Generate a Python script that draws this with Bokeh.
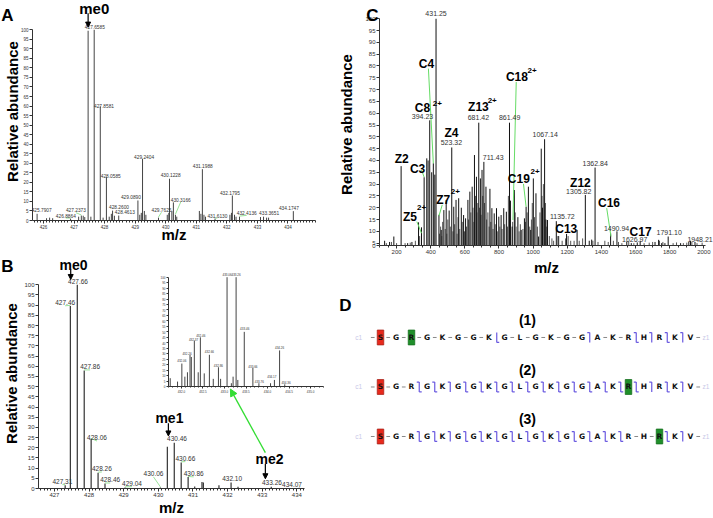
from math import pi
from bokeh.plotting import figure
from bokeh.models import (Range1d, Label, Arrow, NormalHead, SingleIntervalTicker,
                          FixedTicker, GridBox, NumeralTickFormatter)
from bokeh.embed import file_html
from bokeh.resources import INLINE
from bokeh.core.properties import value

FONT = "Liberation Sans"
SX = 1.0
SY = 1.0

# ---------------- Panel A data ----------------
A_MZ = [425.7907, 426.10, 426.20, 426.30, 426.8864, 427.15, 427.2373, 427.30, 427.35,
        427.46, 427.55, 427.6585, 427.8581, 427.95, 428.0585, 428.15, 428.22, 428.2600,
        428.32, 428.4613, 429.0890, 429.15, 429.20, 429.2404, 429.30, 429.35, 429.7625,
        430.05, 430.10, 430.1228, 430.20, 430.25, 430.3166, 430.36, 431.10, 431.15,
        431.1988, 431.25, 431.30, 431.6130, 432.10, 432.15, 432.1795, 432.25, 432.30,
        432.4136, 433.10, 433.20, 433.30, 433.3651, 434.1747]
A_INT = [3.5, 1.2, 1.5, 1.2, 1.0, 2.0, 2.6, 2.5, 1.8,
         99.5, 2.0, 100, 59.8, 1.5, 22.7, 2.0, 3.5, 5.2,
         2.5, 2.6, 10.5, 3.0, 4.0, 32.3, 5.0, 3.0, 1.5,
         3.0, 4.0, 21.9, 5.0, 9.5, 3.0, 2.0, 5.0, 3.5,
         26.9, 3.0, 2.0, 1.0, 3.0, 4.0, 13.1, 3.0, 2.0,
         2.0, 1.8, 2.0, 1.5, 1.5, 4.9]
A_LAB_TEXT = ["425.7907", "426.8864", "427.2373", "427.6585", "427.8581", "428.0585",
              "428.2600", "428.4613", "429.0890", "429.2404", "429.7625", "430.1228",
              "430.3166", "431.1988", "431.6130", "432.1795", "432.4136", "433.3651", "434.1747"]
A_LAB_X = [425.94, 426.73, 427.06, 427.68, 427.98, 428.20, 428.47, 428.66, 428.86, 429.29,
           429.86, 430.16, 430.49, 431.21, 431.69, 432.10, 432.65, 433.38, 434.03]
A_LAB_Y = [5.6, 2.6, 5.4, 101.2, 60.1, 23.5, 7.0, 4.2, 12.2, 33.4,
           5.6, 24.1, 11.0, 28.7, 2.6, 14.3, 4.0, 4.0, 6.8]
A_LEADERS = ["427.2373", "429.7625", "430.3166", "432.4136", "431.6130", "426.8864"]

# ---------------- Panel B data ----------------
B_MZ = [427.31, 427.46, 427.66, 427.86, 428.06, 428.26, 428.46, 429.04, 430.06, 430.26,
        430.46, 430.66, 430.86, 431.05, 431.26, 431.30, 431.75, 432.10, 432.30, 433.26, 434.07]
B_INT = [1.6, 89.6, 100, 57.9, 24.3, 7.7, 2.4, 0.5, 0.5, 20.5,
         22.4, 12.8, 5.6, 1.0, 3.2, 3.0, 1.6, 2.9, 0.8, 0.8, 0.4]
B_LAB_TEXT = ["427.31", "427.46", "427.66", "427.86", "428.06", "428.26", "428.46", "429.04",
              "430.06", "430.46", "430.66", "430.86", "432.10", "433.26", "434.07"]
B_LAB_X = [427.23, 427.31, 427.68, 428.03, 428.23, 428.37, 428.61, 429.24,
           429.86, 430.54, 430.78, 431.02, 432.13, 433.28, 433.86]
B_LAB_Y = [3.4, 91.2, 101.8, 59.7, 24.8, 9.6, 4.2, 2.4, 7.2, 24.3, 14.7, 7.2, 5.1, 3.0, 2.0]
B_LEADERS = ["427.31", "427.46", "427.86", "428.06", "428.26", "428.46", "429.04",
             "430.06", "430.66", "430.86"]

# ---------------- Inset data ----------------
IN_MZ = [431.74, 431.91, 432.01, 432.08, 432.14, 432.20, 432.23, 432.30, 432.39, 432.44,
         432.53, 432.65, 432.74, 432.86, 432.91, 433.06, 433.16, 433.20, 433.27, 433.31,
         433.46, 433.66, 433.80, 434.07, 434.16, 434.28, 434.40]
IN_INT = [7.6, 4.5, 21, 9, 13, 29, 27, 42, 13, 45,
          12, 29, 7, 17.6, 7, 100, 3, 9, 100, 6,
          50, 17, 3, 3, 6, 33, 2]
IN_LAB_TEXT = ["432.06", "432.26", "432.37", "432.46", "432.66", "432.86", "433.06", "433.26",
               "433.46", "433.66", "433.76", "434.17", "434.26", "434.36"]
IN_LAB_X = [432.01, 432.13, 432.28, 432.45, 432.65, 432.86, 433.06, 433.27,
            433.47, 433.66, 433.81, 434.10, 434.28, 434.43]
IN_LAB_Y = [23.6, 30.9, 43.0, 47.0, 32.5, 19.5, 102.5, 102.5, 53, 18.5, 5, 9.1, 35.5, 3.6]

# ---------------- Panel C data ----------------
C_MZ = [130, 159, 184, 226.6, 265, 290, 328.7, 346, 361.5, 376.9, 384.6, 394.23, 405.8,
        415.4, 424, 431.25, 448.2, 461.7, 477, 490.6, 508, 523.32, 535, 548.4, 563.8,
        579.2, 592.7, 604.3, 617.8, 629.3, 642.8, 656.3, 667.9, 681.42, 691, 700.6,
        711.43, 723.7, 746.9, 758.4, 772, 785.4, 798.9, 812.4, 827.8, 843.2, 861.49,
        867, 877, 890, 910.7, 930, 949, 958.8, 972.3, 985.8, 1001.2, 1016.6, 1032,
        1047.5, 1055, 1067.14, 1075, 1084, 1135.72, 1146, 1195.9, 1257.5, 1305.82,
        1328.7, 1343, 1362.84, 1453.9, 1490.94, 1548.6, 1575, 1610, 1626.97, 1714,
        1735, 1753, 1772, 1791.10, 1864, 1912, 1922, 1948.21]
C_INT = [6, 5.5, 7.8, 37.6, 5, 5.5, 13.8, 11.7, 32.9, 40.9, 40, 57, 35,
         38.8, 34, 100, 17, 10.6, 19, 23.3, 18.8, 45.5, 20.4, 23.3, 24,
         20, 16.9, 15.5, 23.3, 26.8, 28.9, 42.3, 33.1, 56, 32.4, 36,
         39.4, 28.9, 28, 19.8, 17.6, 19.8, 16.2, 16.9, 19.8, 18.3, 56,
         23, 12, 27.5, 16, 10.6, 15.5, 20.4, 28.9, 10.6, 32.4, 26.1, 7.8,
         45, 20, 49, 15, 14.8, 14.3, 8, 8.9, 10.6, 25.4,
         6, 6.5, 37, 9.2, 10, 5.7, 5, 5.3, 6, 5.5,
         6.4, 5, 5, 7.8, 5, 5.5, 6, 5.5]
C_NOISE_MZ = [140, 170, 200, 250, 280, 310, 335, 452, 458, 466, 470, 485, 495, 500, 515, 530,
              540, 555, 560, 570, 585, 598, 610, 622, 635, 648, 652, 662, 672, 676, 686, 695,
              705, 715, 728, 735, 742, 752, 765, 778, 790, 805, 818, 833, 850, 855, 865, 880,
              895, 900, 918, 925, 940, 955, 965, 980, 990, 995, 1008, 1025, 1040, 1052, 1060,
              1072, 1080, 1095, 1110, 1120, 1150, 1170, 1190, 1205, 1220, 1240, 1270, 1290,
              1350, 1380, 1420, 1440, 1470, 1500, 1520, 1560, 1590, 1650, 1680, 1700, 1740,
              1760, 1820, 1840, 1880, 1900, 1930, 1960, 1990]
C_NOISE_INT = [5, 5.5, 5, 5, 5.2, 6, 8, 9, 12, 8, 14, 11, 9, 15, 12, 10,
               13, 9, 16, 11, 14, 10, 12, 15, 18, 20, 14, 25, 18, 22, 20, 17,
               25, 22, 15, 18, 12, 14, 11, 13, 10, 12, 11, 13, 12, 25, 15, 14,
               18, 12, 10, 13, 11, 14, 18, 12, 15, 22, 16, 12, 18, 25, 30,
               22, 12, 8, 7, 6, 8, 6, 7, 8, 6, 6, 6, 7,
               6, 5.5, 6, 5.5, 6, 5.5, 5, 5.5, 5, 5, 5.2, 5.5, 6,
               5.5, 5, 5.3, 5, 5.2, 5.5, 5, 5.2]
C_LAB_TEXT = ["431.25", "394.23", "681.42", "861.49", "1067.14", "523.32", "711.43",
              "1362.84", "1305.82", "1135.72", "1490.94", "1626.97", "1791.10", "1948.21"]
C_LAB_X = [431.25, 351.8, 679.4, 862.5, 1070.6, 521.4, 766, 1363.5, 1267.2, 1170.8,
           1488.8, 1594.8, 1797.1, 1978]
C_LAB_Y = [102.1, 58.5, 58.3, 58.3, 51.0, 47.5, 41.1, 38.8, 26.8, 16.2, 11.3, 6.4, 9.6, 6.7]
C_ION = ["Z2", "C3", "C4", "C8", "Z4", "Z13", "Z5", "Z7", "C18", "C19", "Z12", "C13", "C16", "C17"]
C_ION_X = [230.4, 322.9, 375, 351.8, 521.4, 679.4, 278.6, 473.2, 904.9, 916.4, 1276.8, 1193.9,
           1444.5, 1629.5]
C_ION_Y = [40.6, 36.2, 81, 62.2, 51.7, 62.5, 16.1, 23.3, 75.3, 32, 30.6, 10.9, 21.9, 9.6]
C_SUP = ["2+", "2+", "2+", "2+", "2+", "2+"]
C_SUP_X = [438.5, 760.4, 346, 544.5, 993.5, 1010.9]
C_SUP_Y = [64.1, 65.5, 20.2, 26.8, 78.2, 35.2]
C_LEAD_X0 = [386.5, 901, 943.4, 1431, 319, 467.5, 346]
C_LEAD_Y0 = [78.9, 73.2, 30.1, 19.8, 14.1, 21.2, 36]
C_LEAD_X1 = [415.4, 881.8, 958.8, 1456, 346, 448.2, 361.5]
C_LEAD_Y1 = [38.8, 14.8, 20.4, 7.8, 9.2, 16.5, 33]

# ---------------- Panel D data ----------------
SEQ = list("SGRGKGGKGLGKGGAKRHRKV")
ROW_TITLES = ["(1)", "(2)", "(3)"]
ROW_GAPS = ["-------z-----c--bcbc",
            "--bbc" + "b" * 12 + "cbc",
            "--bbc" + "b" * 11 + "--bc"]
RED_IDX = [0, 0, 0]
GREEN_IDX = [2, 16, 18]


# ---------------- helpers ----------------
def make_fig(canvas, frame, xr, yr, axes=True):
    cx0, cy0, cx1, cy1 = canvas
    fx0, fy0, fx1, fy1 = frame
    L = round(cx0 * SX)
    T = round(cy0 * SY)
    W = round(cx1 * SX) - L
    H = round(cy1 * SY) - T
    kw = {}
    if not axes:
        kw = dict(x_axis_type=None, y_axis_type=None)
    p = figure(width=W, height=H, x_range=Range1d(*xr), y_range=Range1d(*yr),
               output_backend="svg", toolbar_location=None,
               min_border_left=round(fx0 * SX) - L, min_border_right=round(cx1 * SX) - round(fx1 * SX),
               min_border_top=round(fy0 * SY) - T, min_border_bottom=round(cy1 * SY) - round(fy1 * SY),
               **kw)
    p.frame_align = False
    p.margin = (T, 0, 0, L)
    p.align = "start"
    p.title.visible = False
    p.outline_line_color = None
    p.background_fill_alpha = 0
    p.border_fill_alpha = 0
    if axes:
        p.xgrid.visible = False
        p.ygrid.visible = False
    return p


def style_axes(p, fs, xticker, yticker, ybounds=(0, 100)):
    for ax in (p.xaxis[0], p.yaxis[0]):
        ax.axis_line_color = "#333333"
        ax.major_tick_line_color = "#333333"
        ax.minor_tick_line_color = "#333333"
        ax.major_tick_in = 0
        ax.major_tick_out = 3
        ax.minor_tick_in = 0
        ax.minor_tick_out = 2
        ax.major_label_text_font = FONT
        ax.major_label_text_font_size = fs
        ax.major_label_text_color = "#333333"
        ax.major_label_standoff = 1
    p.xaxis[0].ticker = xticker
    p.yaxis[0].ticker = yticker
    p.yaxis[0].bounds = ybounds


def axis_titles(p, xs, ys, size="15px"):
    for ax, txt, s in ((p.xaxis[0], "m/z", xs), (p.yaxis[0], "Relative abundance", ys)):
        ax.axis_label = txt
        ax.axis_label_text_font = FONT
        ax.axis_label_text_font_size = size
        ax.axis_label_text_font_style = "bold"
        ax.axis_label_text_color = "black"
        ax.axis_label_standoff = s


def lab(p, x, y, text, size, bold=True, color="black", angle=0.0, align="center"):
    p.add_layout(Label(x=x, y=y, text=text, text_font=FONT, text_font_size=size,
                       text_font_style="bold" if bold else "normal", text_color=color,
                       angle=angle, text_align=align, text_baseline="middle"))


def arrow(p, x, y0, y1, color="black", size=5):
    p.add_layout(Arrow(end=NormalHead(size=size, fill_color=color, line_color=color),
                       x_start=x, y_start=y0, x_end=x, y_end=y1,
                       line_color=color, line_width=1.2))


def peak_labels(p, xs, ys, texts, fs, color="#333333"):
    p.text(x=xs, y=ys, text=texts, text_font=value(FONT), text_font_size=fs,
           text_color=color, text_align="center", text_baseline="middle")


def leaders(p, mzs, ints, texts, xs, ys, which, dy, color="#7fdc7f"):
    lookup = dict(zip(mzs, ints))
    x0, y0, x1, y1 = [], [], [], []
    for t, lx, ly in zip(texts, xs, ys):
        if t in which:
            m = float(t)
            x0.append(lx); y0.append(ly - dy)
            x1.append(m); y1.append(lookup.get(m, 0.5) + 0.3)
    p.segment(x0=x0, y0=y0, x1=x1, y1=y1, line_color=color, line_width=0.8)


def letter_fig(txt, cx, cy, w=22, h=24):
    box = (cx - w / 2, cy - h / 2, cx + w / 2, cy + h / 2)
    p = make_fig(box, box, (0, 1), (0, 1), axes=False)
    p.text(x=[0.5], y=[0.5], text=[txt], text_font=value(FONT), text_font_size="17px",
           text_font_style="bold", text_color="black", text_align="center", text_baseline="middle")
    return p


# ---------------- Panel A ----------------
pA = make_fig((0, 0, 332, 248), (31.7, 2, 315, 220), (425.64, 434.9), (0, 114.3))
style_axes(pA, "4.5px", SingleIntervalTicker(interval=1, num_minor_ticks=10),
           SingleIntervalTicker(interval=5, num_minor_ticks=0))
axis_titles(pA, -6, -3)
pA.segment(x0=A_MZ, y0=[0] * len(A_MZ), x1=A_MZ, y1=A_INT, line_color="#444444", line_width=1)
leaders(pA, A_MZ, A_INT, A_LAB_TEXT, A_LAB_X, A_LAB_Y, A_LEADERS, 1.3)
peak_labels(pA, A_LAB_X, A_LAB_Y, A_LAB_TEXT, "4.8px")
lab(pA, 427.66, 111.0, "me0", "15px")
arrow(pA, 427.46, 108.6, 101.4)

# ---------------- Panel B ----------------
pB = make_fig((0, 256, 332, 518), (38.3, 258, 304, 493.3), (426.54, 434.22), (0, 112.9))
style_axes(pB, "6px", SingleIntervalTicker(interval=1, num_minor_ticks=10),
           SingleIntervalTicker(interval=5, num_minor_ticks=0))
axis_titles(pB, -1, 1)
pB.segment(x0=B_MZ, y0=[0] * len(B_MZ), x1=B_MZ, y1=B_INT, line_color="#333333", line_width=1.2)
leaders(pB, B_MZ, B_INT, B_LAB_TEXT, B_LAB_X, B_LAB_Y, B_LEADERS, 1.5)
peak_labels(pB, B_LAB_X, B_LAB_Y, B_LAB_TEXT, "6.5px")
lab(pB, 427.55, 109.8, "me0", "14px")
arrow(pB, 427.47, 107.6, 102.6)
lab(pB, 430.32, 34.7, "me1", "14px")
arrow(pB, 430.29, 32.0, 25.8)
lab(pB, 433.21, 14.7, "me2", "14px")
arrow(pB, 433.09, 12.0, 4.8)
pB.add_layout(Arrow(end=NormalHead(size=7, fill_color="#33dd33", line_color="#33dd33"),
                    x_start=433.09, y_start=17.6, x_end=432.08, y_end=48.8,
                    line_color="#33dd33", line_width=1.3))

# ---------------- Inset ----------------
pI = make_fig((152, 270, 330, 395), (168.3, 272, 323.3, 386.7), (431.7, 435.3), (0, 104.3))
style_axes(pI, "3px", SingleIntervalTicker(interval=0.5, num_minor_ticks=5),
           SingleIntervalTicker(interval=5, num_minor_ticks=0))
for ax in (pI.xaxis[0], pI.yaxis[0]):
    ax.major_tick_out = 2
    ax.minor_tick_out = 1
pI.xaxis[0].formatter = NumeralTickFormatter(format="0.0")
pI.segment(x0=IN_MZ, y0=[0] * len(IN_MZ), x1=IN_MZ, y1=IN_INT, line_color="#444444", line_width=1)
peak_labels(pI, IN_LAB_X, IN_LAB_Y, IN_LAB_TEXT, "3px")

# ---------------- Panel C ----------------
pC = make_fig((335, 0, 713, 278), (377.1, 3, 713, 245.6), (100, 2056.6), (4, 106.46))
yt = FixedTicker(ticks=[4] + list(range(5, 101, 5)))
style_axes(pC, "6px", SingleIntervalTicker(interval=200, num_minor_ticks=4), yt, ybounds=(4, 100))
pC.xaxis[0].bounds = (100, 2010)
pC.yaxis[0].major_label_overrides = {4: "0"}
axis_titles(pC, 2, 7)
pC.segment(x0=C_NOISE_MZ, y0=[4] * len(C_NOISE_MZ), x1=C_NOISE_MZ, y1=C_NOISE_INT,
           line_color="#555555", line_width=1)
pC.segment(x0=C_MZ, y0=[4] * len(C_MZ), x1=C_MZ, y1=C_INT, line_color="#111111", line_width=1)
pC.segment(x0=C_LEAD_X0, y0=C_LEAD_Y0, x1=C_LEAD_X1, y1=C_LEAD_Y1, line_color="#66dd66", line_width=1)
peak_labels(pC, C_LAB_X, C_LAB_Y, C_LAB_TEXT, "7px")
pC.text(x=C_ION_X, y=C_ION_Y, text=C_ION, text_font=value(FONT), text_font_size="12px",
        text_font_style="bold", text_color="black", text_align="center", text_baseline="middle")
pC.text(x=C_SUP_X, y=C_SUP_Y, text=C_SUP, text_font=value(FONT), text_font_size="8px",
        text_font_style="bold", text_color="black", text_align="center", text_baseline="middle")

# ---------------- Panel D ----------------
pD = make_fig((335, 290, 713, 455), (335, 290, 713, 455), (-2.903, 21.484), (2.384, -0.949), axes=False)
n = len(SEQ)
for r in range(3):
    pD.rect(x=[RED_IDX[r]], y=[r], width=0.42, height=0.30, fill_color="#e8291c",
            line_color="#a8231a", line_width=0.8)
    pD.rect(x=[GREEN_IDX[r]], y=[r], width=0.42, height=0.30, fill_color="#1f8f2a",
            line_color="#16701f", line_width=0.8)
dx0, dx1, dy = [], [], []
mx0, my0, mx1, my1 = [], [], [], []
for r, gaps in enumerate(ROW_GAPS):
    full = "-" + gaps + "-"
    for k, g in enumerate(full):
        gx = k - 0.5
        if g == "-":
            dx0.append(gx - 0.12); dx1.append(gx + 0.12); dy.append(r)
        else:
            mx0.append(gx); my0.append(r - 0.1); mx1.append(gx); my1.append(r + 0.1)
            if g in "cb":
                mx0.append(gx - 0.16); my0.append(r - 0.1); mx1.append(gx); my1.append(r - 0.1)
            if g in "zb":
                mx0.append(gx); my0.append(r + 0.1); mx1.append(gx + 0.16); my1.append(r + 0.1)
pD.segment(x0=dx0, y0=dy, x1=dx1, y1=dy, line_color="#888888", line_width=1)
pD.segment(x0=mx0, y0=my0, x1=mx1, y1=my1, line_color="#6a5ae0", line_width=1.2)
for r in range(3):
    pD.text(x=list(range(n)), y=[r] * n, text=SEQ, text_font=value("DejaVu Sans"),
            text_font_size="7.5px", text_font_style="bold", text_color="#111111",
            text_align="center", text_baseline="middle")
    pD.text(x=[-1.4, 21.0], y=[r, r], text=["c1", "z1"], text_font=value(FONT),
            text_font_size="6.5px", text_color="#c8c8e8", text_align="center", text_baseline="middle")
pD.text(x=[9.48] * 3, y=[-0.35, 0.65, 1.65], text=ROW_TITLES, text_font=value(FONT),
        text_font_size="14px", text_font_style="bold", text_color="black",
        text_align="center", text_baseline="middle")
lab(pD, -2.26, -0.646, "D", "17px")

# ---------------- panel letters ----------------
lA = letter_fig("A", 7, 15)
lB = letter_fig("B", 7, 266)
lC = letter_fig("C", 372, 15)

grid = GridBox(children=[(pA, 0, 0), (pB, 0, 0), (pI, 0, 0), (pC, 0, 0), (pD, 0, 0),
                         (lA, 0, 0), (lB, 0, 0), (lC, 0, 0)])
open("out.html", "w").write(file_html(grid, INLINE))
